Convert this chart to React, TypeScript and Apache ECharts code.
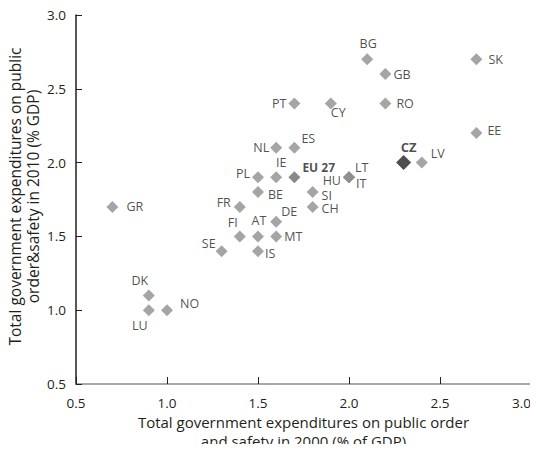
import React, { useEffect, useRef } from "react";
import * as echarts from "echarts";

const countries = ["BG","SK","GB","PT","CY","RO","EE","NL","ES","CZ","LV","PL","IE","EU 27","LT","IT","HU","BE","SI","CH","DE","FR","GR","FI","AT","MT","SE","IS","DK","LU","NO"];
const exp2000 = [2.1,2.7,2.2,1.7,1.9,2.2,2.7,1.6,1.7,2.3,2.4,1.5,1.6,1.7,2.0,2.0,2.0,1.5,1.8,1.8,1.6,1.4,0.7,1.4,1.5,1.6,1.3,1.5,0.9,0.9,1.0];
const exp2010 = [2.7,2.7,2.6,2.4,2.4,2.4,2.2,2.1,2.1,2.0,2.0,1.9,1.9,1.9,1.9,1.9,1.9,1.8,1.8,1.7,1.6,1.7,1.7,1.5,1.5,1.5,1.4,1.4,1.1,1.0,1.0];
const xTicks = ["0.5","1.0","1.5","2.0","2.5","3.0"];

const FONT = "'Open Sans', 'Noto Sans', sans-serif";
const TXT = "#231f20";

const labelPlacement: Record<string, { position: string; offset?: number[]; distance?: number }> = {
  BG: { position: "top", offset: [1, 0] },
  SK: { position: "right", distance: 6 },
  GB: { position: "right", distance: 2 },
  PT: { position: "left", distance: 2 },
  CY: { position: "right", offset: [-6, 9], distance: 0 },
  RO: { position: "right", distance: 5 },
  EE: { position: "right", offset: [0, -3], distance: 5 },
  NL: { position: "left", distance: 1 },
  ES: { position: "right", offset: [-1, -9], distance: 2 },
  CZ: { position: "top", offset: [5, 1] },
  LV: { position: "right", offset: [0, -9], distance: 3 },
  PL: { position: "left", offset: [0, -4], distance: 2 },
  IE: { position: "top", offset: [5, 1] },
  "EU 27": { position: "right", offset: [0, -10], distance: 2 },
  LT: { position: "right", offset: [0, -10], distance: 0 },
  IT: { position: "right", offset: [0, 6], distance: 1 },
  HU: { position: "left", offset: [0, 3], distance: 2 },
  BE: { position: "right", offset: [0, 2], distance: 4 },
  SI: { position: "right", offset: [0, 3], distance: 3 },
  CH: { position: "right", offset: [0, 2], distance: 3 },
  DE: { position: "right", offset: [-3, -10], distance: 2 },
  FR: { position: "left", offset: [0, -4], distance: 3 },
  GR: { position: "right", distance: 8 },
  FI: { position: "top", offset: [-7, 2] },
  AT: { position: "top", offset: [1, 0] },
  MT: { position: "right", distance: 2 },
  SE: { position: "left", offset: [2, -8], distance: 2 },
  IS: { position: "right", offset: [0, 2], distance: 1 },
  DK: { position: "top", offset: [-9, 1] },
  LU: { position: "bottom", offset: [-9, 0] },
  NO: { position: "right", offset: [2, -7], distance: 5 },
};

export default function App() {
  const ref = useRef<HTMLDivElement>(null);
  useEffect(() => {
    if (!ref.current) return;
    const chart = echarts.init(ref.current, undefined, { renderer: "svg" });
    const data = countries.map((name, i) => {
      const lp = labelPlacement[name] || { position: "right" };
      const isCZ = name === "CZ";
      const isEU = name === "EU 27";
      return {
        name,
        value: [exp2000[i], exp2010[i]],
        symbolSize: isCZ ? 15 : 12,
        itemStyle: { color: isCZ ? "#231f20" : isEU ? "#6b6b6b" : "#8f8f8f" },
        label: {
          show: true,
          formatter: name,
          position: lp.position,
          offset: lp.offset || [0, 0],
          distance: lp.distance !== undefined ? lp.distance : 3,
          color: TXT,
          fontFamily: FONT,
          fontSize: isCZ ? 13 : isEU ? 12 : 12.5,
          fontWeight: isCZ || isEU ? "bold" : "normal",
        },
      };
    });
    chart.setOption({
      animation: false,
      backgroundColor: "#ffffff",
      grid: { left: 76, right: 7, top: 15, bottom: 68, containLabel: false, outerBoundsMode: "none" },
      xAxis: {
        type: "value",
        min: 0.5,
        max: 3.0,
        interval: 0.5,
        name: "Total government expenditures on public order\nand safety in 2000 (% of GDP)",
        nameLocation: "middle",
        nameGap: 28,
        nameMoveOverlap: false,
        nameTextStyle: { color: TXT, fontFamily: FONT, fontSize: 15, lineHeight: 19, verticalAlign: "top" },
        axisLine: { show: true, lineStyle: { color: "#8a8a8a", width: 1.5 } },
        axisTick: { show: true, inside: true, length: 7, lineStyle: { color: "#231f20", width: 1 } },
        axisLabel: {
          color: TXT,
          fontFamily: FONT,
          fontSize: 13.5,
          margin: 12,
          alignMaxLabel: "right",
          formatter: (v: number) => xTicks[Math.round((v - 0.5) / 0.5)] ?? "",
        },
        splitLine: { show: false },
      },
      yAxis: {
        type: "value",
        min: 0.5,
        max: 3.0,
        interval: 0.5,
        name: "Total government expenditures on public\norder&safety in 2010 (% GDP)",
        nameLocation: "middle",
        nameGap: 34,
        nameMoveOverlap: false,
        nameTextStyle: { color: TXT, fontFamily: FONT, fontSize: 15.5, lineHeight: 18, padding: [0, 0, 0, 6] },
        axisLine: { show: true, lineStyle: { color: "#231f20", width: 1.5 } },
        axisTick: { show: true, inside: true, length: 6, lineStyle: { color: "#231f20", width: 1 } },
        axisLabel: {
          color: TXT,
          fontFamily: FONT,
          fontSize: 13.5,
          margin: 10,
          formatter: (v: number) => v.toFixed(1),
        },
        splitLine: { show: false },
      },
      series: [
        {
          type: "scatter",
          symbol: "diamond",
          data,
        },
      ],
    });
    return () => chart.dispose();
  }, []);
  return <div ref={ref} style={{ width: 538, height: 452, margin: -8 }} />;
}
